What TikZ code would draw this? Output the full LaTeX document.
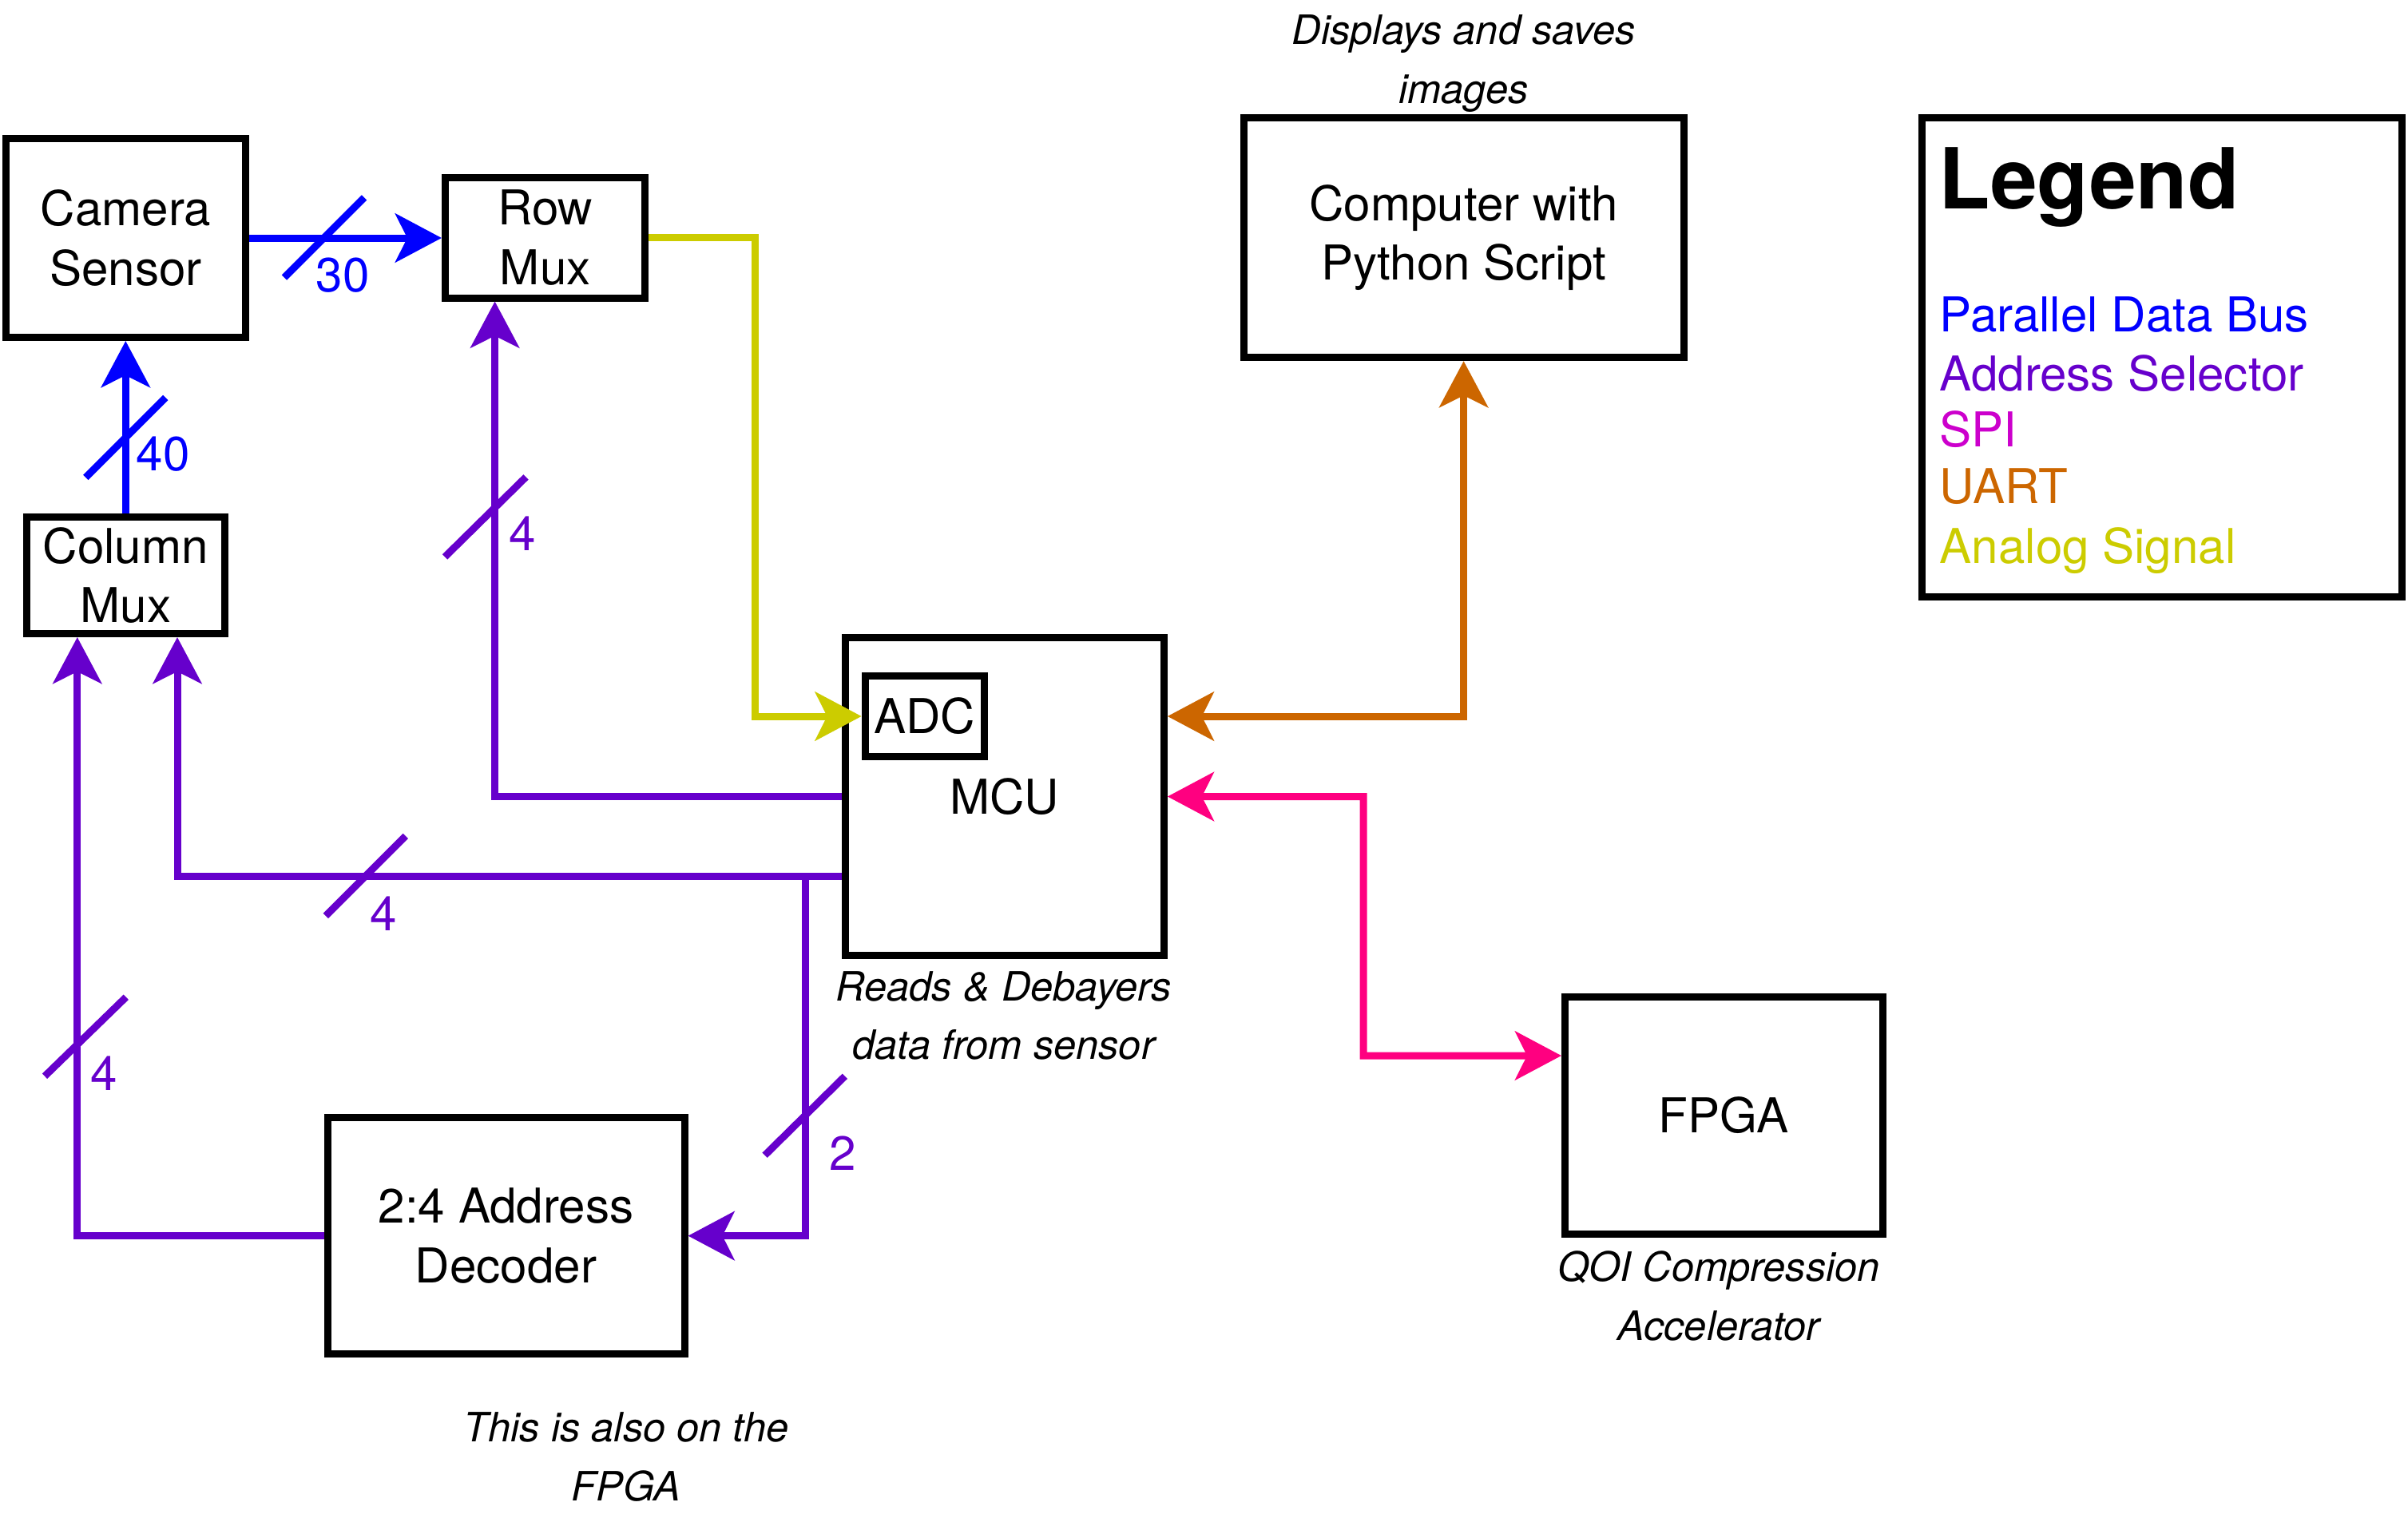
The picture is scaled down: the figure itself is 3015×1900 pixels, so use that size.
\documentclass[tikz,border=0pt]{standalone}
\usepackage{fontspec}
\setmainfont{TeX Gyre Heros}
\usetikzlibrary{arrows.meta,calc}
\definecolor{busblue}{HTML}{0000FF}
\definecolor{addrpurple}{HTML}{6600CC}
\definecolor{spimag}{HTML}{CC00CC}
\definecolor{uartorange}{HTML}{CC6600}
\definecolor{analogyellow}{HTML}{CCCC00}
\definecolor{spipink}{HTML}{FF0080}
\newcommand\mainsz{\fontsize{17.1pt}{21.2pt}\selectfont}
\newcommand\itsz{\fontsize{14.4pt}{20.9pt}\selectfont\itshape}
\newcommand\titlesz{\fontsize{30pt}{35pt}\selectfont\bfseries}
\begin{document}
\begin{tikzpicture}[x=0.1mm,y=-0.1mm,
  box/.style={draw=black,line width=0.9mm,rectangle,inner sep=0pt,align=center,font=\mainsz},
  conn/.style={line width=0.9mm},
  buslabel/.style={inner sep=0pt,font=\mainsz},
  note/.style={inner sep=0pt,align=center,font=\itsz},
  legitem/.style={anchor=base west,inner sep=0pt,font=\mainsz},
  >={Stealth[length=5.8mm,width=6.1mm,inset=1.5mm]}
]
\useasboundingbox (0,0) rectangle (3015,1900);

% boxes
\node[box,minimum width=30mm,minimum height=24.9mm] (cam) at (157.5,298) {Camera\\Sensor};
\node[box,minimum width=25.05mm,minimum height=15.1mm] (row) at (682.7,297.5) {Row\\Mux};
\node[box,minimum width=24.8mm,minimum height=14.6mm] (col) at (157.3,720.5) {Column\\Mux};
\node[box,minimum width=39.9mm,minimum height=39.8mm] (mcu) at (1257.8,997.5) {MCU};
\node[box,minimum width=14.94mm,minimum height=10.1mm] (adc) at (1157.8,897) {ADC};
\node[box,minimum width=55.1mm,minimum height=30.03mm] (comp) at (1832.6,297.5) {Computer with\\Python Script};
\node[box,minimum width=39.76mm,minimum height=29.7mm] (fpga) at (2158.3,1397) {FPGA};
\node[box,minimum width=44.7mm,minimum height=29.54mm] (dec) at (633.5,1547.6) {2:4 Address\\Decoder};
\node[box,minimum width=60.1mm,minimum height=60mm] (leg) at (2707,447.5) {};

% connectors
\draw[conn,busblue,->] (cam.east) -- (cam.east -| row.west);
\draw[conn,busblue,->] (col.north) -- (col.north |- cam.south);
\draw[conn,addrpurple,->] (mcu.west) -| ([xshift=-6.31mm]row.south);
\draw[conn,addrpurple,->] ([yshift=-9.95mm]mcu.west) -| ([xshift=6.47mm]col.south);
\coordinate (junc) at (1008,1097);
\draw[conn,addrpurple,->] (junc) |- (dec.east);
\draw[conn,addrpurple,->] (dec.west) -| ([xshift=-6.05mm]col.south);
\coordinate (ybend) at (945,897);
\draw[conn,analogyellow,->] (row.east) -| (ybend) -- (adc.west);
\draw[conn,uartorange,<->] (mcu.east |- adc.east) -| (comp.south);
\coordinate (pbend) at (1707,1322);
\draw[conn,spipink,<->] (mcu.east) -| (pbend) -- ([yshift=7.5mm]fpga.west);

% bus-width slashes
\draw[conn,busblue] (356,347.5) -- (456,247.5);
\draw[conn,busblue] (107.3,598) -- (207.3,498);
\draw[conn,addrpurple] (557,697.4) -- (658.5,597.4);
\draw[conn,addrpurple] (407.8,1147) -- (507.8,1047);
\draw[conn,addrpurple] (56,1347.7) -- (157.8,1248.7);
\draw[conn,addrpurple] (957.6,1446.7) -- (1057.9,1347.7);

% bus-width labels
\node[buslabel,busblue] (l30) at (429,345) {30};
\node[buslabel,busblue] (l40) at (204,569) {40};
\node[buslabel,addrpurple] (l4a) at (654,668.5) {4};
\node[buslabel,addrpurple] (l4b) at (480,1144) {4};
\node[buslabel,addrpurple] (l4c) at (130,1344) {4};
\node[buslabel,addrpurple] (l2) at (1055,1444) {2};

% notes
\node[note] (n1) at (1832.6,79.5) {Displays and saves\\images};
\node[note] (n2) at (1256.7,1272) {Reads \& Debayers\\data from sensor};
\node[note] (n3) at (2152,1623) {QOI Compression\\Accelerator};
\node[note] (n4) at (784,1824.5) {This is also on the\\FPGA};

% legend
\node[legitem,font=\titlesz] (lt) at (2427,261) {Legend};
\node[legitem,busblue] (lg1) at (2428,415.2) {Parallel Data Bus};
\node[legitem,addrpurple] (lg2) at (2428,489.8) {Address Selector};
\node[legitem,spimag] (lg3) at (2428,559.5) {SPI};
\node[legitem,uartorange] (lg4) at (2428,630) {UART};
\node[legitem,analogyellow] (lg5) at (2428,705.4) {Analog Signal};
\end{tikzpicture}
\end{document}
